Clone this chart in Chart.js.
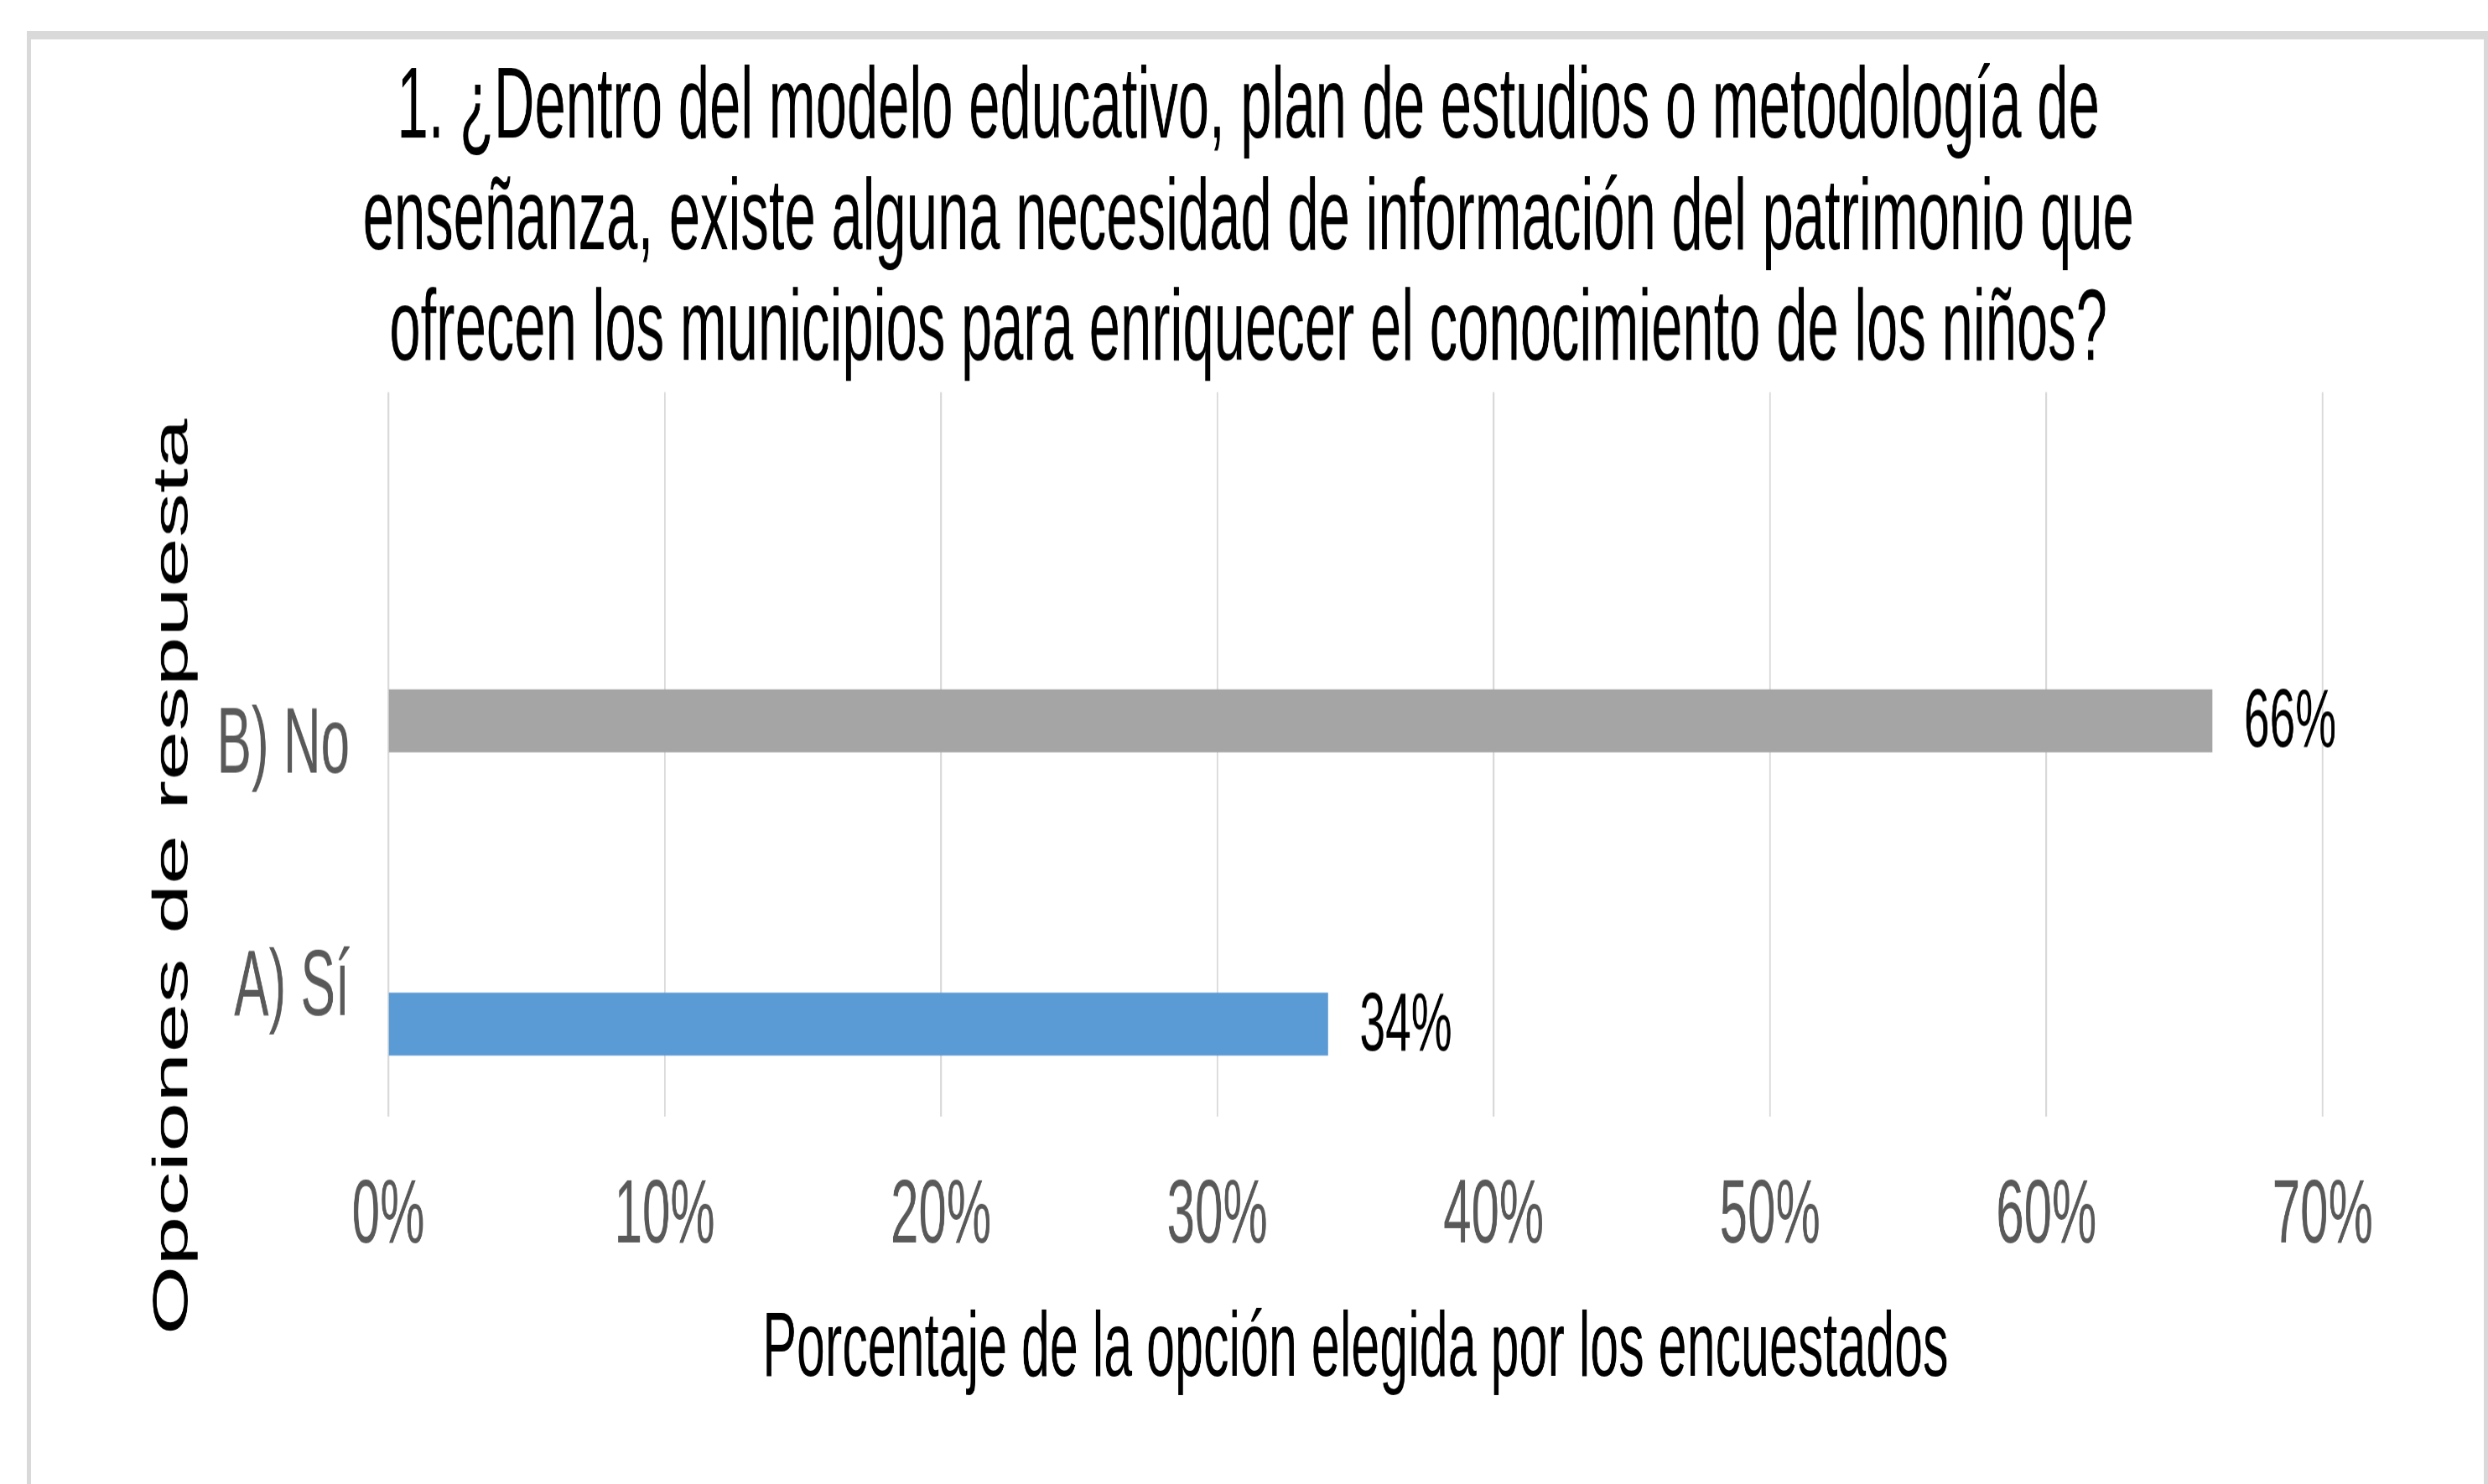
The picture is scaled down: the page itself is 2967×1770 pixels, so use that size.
<!DOCTYPE html>
<html>
<head>
<meta charset="utf-8">
<script src="https://cdn.jsdelivr.net/npm/chart.js@4.4.1/dist/chart.umd.min.js"></script>
<style>
    html, body { margin: 0; padding: 0; background: #fff; overflow: hidden; }
    body { width: 2967px; height: 1770px; position: relative; }
    #frame {
        position: absolute; left: 32px; top: 37px; right: 0; height: 1800px;
        border: 5px solid #d9d9d9; border-top-width: 10px; border-bottom: none;
        box-sizing: border-box;
    }
    /* the reference is stretched vertically, so the chart is drawn flat and scaled */
    #myBarGraph {
        position: absolute; left: 0; top: 0; width: 2967px; height: 983px;
        transform-origin: 0 0; transform: scaleY(1.8006);
    }
</style>
</head>
<body>
<div id="frame"></div>
<canvas id="myBarGraph" width="2967" height="983"></canvas>
<script>
const categories = ['A) Sí', 'B) No'];
const percentages = [34, 66];
const barColors = ['#5b9bd5', '#a5a5a5'];
const xTicks = [0, 10, 20, 30, 40, 50, 60, 70];
const titleLines = [
    '1. ¿Dentro del modelo educativo, plan de estudios o metodología de',
    'enseñanza, existe alguna necesidad de información del patrimonio que',
    'ofrecen los municipios para enriquecer el conocimiento de los niños?'
];
const xTitle = 'Porcentaje de la opción elegida por los encuestados';
const yTitle = 'Opciones de respuesta';

const fontFamily = "'Liberation Sans', Arial, sans-serif";

// value at the end of each bar
const valueLabels = {
    id: 'valueLabels',
    afterDatasetsDraw(chart) {
        const ctx = chart.ctx;
        ctx.save();
        ctx.font = '55px ' + fontFamily;
        ctx.fillStyle = '#000';
        ctx.textAlign = 'left';
        ctx.textBaseline = 'middle';
        chart.getDatasetMeta(0).data.forEach(function (bar, i) {
            ctx.fillText(percentages[i] + '%', bar.x + 38, bar.y + 2);
        });
        ctx.restore();
    }
};

// y axis title sits lower than the axis middle in the reference
const sideTitle = {
    id: 'sideTitle',
    afterDraw(chart) {
        const ctx = chart.ctx;
        const area = chart.chartArea;
        ctx.save();
        ctx.translate(area.left - 256, area.top + 321);
        ctx.rotate(-Math.PI / 2);
        ctx.font = '59px ' + fontFamily;
        ctx.fillStyle = '#000';
        ctx.textAlign = 'center';
        ctx.textBaseline = 'middle';
        ctx.fillText(yTitle, 0, 0);
        ctx.restore();
    }
};

const ctx = document.getElementById('myBarGraph').getContext('2d');
new Chart(ctx, {
    type: 'bar',
    data: {
        datasets: [{
            data: percentages.map((v, i) => ({x: v, y: i + 1})),
            backgroundColor: barColors,
            barThickness: 41
        }]
    },
    options: {
        indexAxis: 'y',
        responsive: false,
        animation: false,
        devicePixelRatio: 1.8,
        layout: {padding: {left: 207.5, right: 197.5, top: 0, bottom: 52.2}},
        plugins: {
            legend: {display: false},
            tooltip: {enabled: false},
            title: {
                display: true,
                text: titleLines,
                color: '#000',
                font: {family: fontFamily, size: 67, weight: 'normal', lineHeight: 1.1},
                padding: {top: 35.8, bottom: 2.8}
            }
        },
        scales: {
            x: {
                type: 'linear',
                position: 'bottom',
                min: xTicks[0],
                max: xTicks[xTicks.length - 1],
                grid: {color: '#d9d9d9', lineWidth: 2, drawTicks: false},
                border: {display: false},
                ticks: {
                    stepSize: xTicks[1] - xTicks[0],
                    padding: 30.9,
                    color: '#595959',
                    font: {family: fontFamily, size: 60},
                    callback: v => v + '%'
                },
                title: {
                    display: true,
                    text: xTitle,
                    color: '#000',
                    font: {family: fontFamily, size: 61},
                    padding: {top: -15.7, bottom: 0}
                }
            },
            y: {
                type: 'linear',
                offset: false,
                bounds: 'data',
                min: 0.695,
                max: 3.083,
                grid: {display: false, drawTicks: false, offset: false},
                border: {display: false},
                afterBuildTicks: scale => {
                    scale.ticks = categories.map((c, i) => ({value: i + 1 + (i === 0 ? 0.1 : -0.1)}));
                },
                afterFit: scale => {
                    scale.width = 255.5;
                },
                ticks: {
                    padding: 46,
                    labelOffset: -3,
                    color: '#595959',
                    font: {family: fontFamily, size: 62},
                    callback: v => categories[Math.round(v) - 1]
                }
            }
        }
    },
    plugins: [valueLabels, sideTitle]
});
</script>
</body>
</html>
